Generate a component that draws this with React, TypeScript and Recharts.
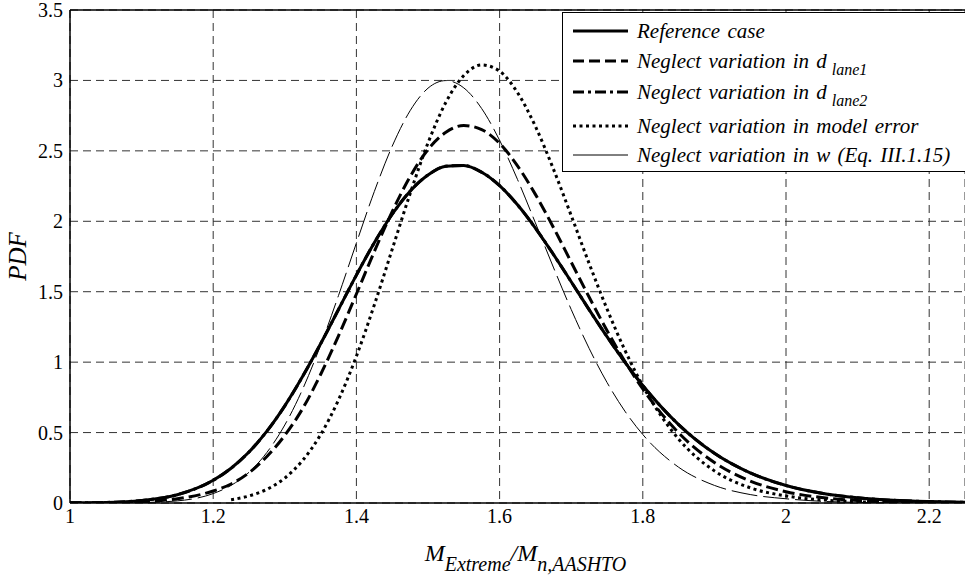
import React from "react";
import {
  LineChart,
  Line,
  XAxis,
  YAxis,
  CartesianGrid,
  ReferenceLine,
} from "recharts";

const xs = [
  1.0, 1.05, 1.1, 1.15, 1.2, 1.225, 1.25, 1.275, 1.3, 1.325, 1.35, 1.375, 1.4, 1.425, 1.45, 1.475, 1.5, 1.525,
  1.55, 1.575, 1.6, 1.625, 1.65, 1.675, 1.7, 1.725, 1.75, 1.775, 1.8, 1.85, 1.9, 1.95, 2.0, 2.05, 2.1, 2.15,
  2.2, 2.25,
];

const referenceCase = [
  0.001, 0.004, 0.018, 0.059, 0.161, 0.247, 0.362, 0.51, 0.69, 0.899, 1.13, 1.374, 1.618, 1.848, 2.05, 2.214,
  2.329, 2.391, 2.396, 2.348, 2.253, 2.117, 1.952, 1.766, 1.571, 1.373, 1.181, 1.0, 0.834, 0.557, 0.353, 0.214,
  0.124, 0.069, 0.037, 0.019, 0.01, 0.005,
];

const noLane1 = [
  0.0, 0.001, 0.008, 0.03, 0.085, 0.135, 0.215, 0.33, 0.48, 0.671, 0.912, 1.187, 1.484, 1.785, 2.069, 2.317,
  2.509, 2.632, 2.68, 2.651, 2.553, 2.394, 2.191, 1.958, 1.71, 1.462, 1.225, 1.005, 0.81, 0.498, 0.287, 0.156,
  0.08, 0.039, 0.018, 0.008, 0.003, 0.001,
];

const noLane2 = [
  0.001, 0.004, 0.018, 0.059, 0.161, 0.247, 0.362, 0.51, 0.69, 0.899, 1.13, 1.374, 1.618, 1.848, 2.05, 2.214,
  2.329, 2.391, 2.396, 2.348, 2.253, 2.117, 1.952, 1.766, 1.571, 1.373, 1.181, 1.0, 0.834, 0.557, 0.353, 0.214,
  0.124, 0.069, 0.037, 0.019, 0.01, 0.005,
];

const noModelError: (number | null)[] = [
  null, null, null, null, null, 0.023, 0.05, 0.097, 0.177, 0.303, 0.485, 0.732, 1.042, 1.406, 1.801, 2.196,
  2.556, 2.845, 3.035, 3.11, 3.066, 2.914, 2.674, 2.373, 2.041, 1.701, 1.378, 1.085, 0.832, 0.454, 0.228, 0.108,
  0.05, 0.022, 0.009, 0.004, 0.001, 0.0,
];

const noW = [
  0.0, 0.0, 0.003, 0.015, 0.067, 0.125, 0.218, 0.359, 0.554, 0.809, 1.12, 1.473, 1.846, 2.211, 2.533, 2.785,
  2.945, 2.999, 2.947, 2.8, 2.575, 2.297, 1.989, 1.675, 1.374, 1.098, 0.856, 0.652, 0.486, 0.254, 0.125, 0.06,
  0.03, 0.012, 0.004, 0.001, 0.0, 0.0,
];

const xTicks = [1, 1.2, 1.4, 1.6, 1.8, 2, 2.2];
const yTicks = [0, 0.5, 1, 1.5, 2, 2.5, 3, 3.5];

const data = xs.map((x, i) => ({
  x,
  ref: referenceCase[i],
  lane1: noLane1[i],
  lane2: noLane2[i],
  model: noModelError[i],
  w: noW[i],
}));

const FONT = "'Liberation Serif'";

const legendItems = [
  { label: "Reference case", sub: "", dash: undefined as string | undefined, width: 3 },
  { label: "Neglect variation in d", sub: "lane1", dash: "11 5", width: 3 },
  { label: "Neglect variation in d", sub: "lane2", dash: "11 4 3 4", width: 3 },
  { label: "Neglect variation in model error", sub: "", dash: "3 3.5", width: 3 },
  { label: "Neglect variation in w (Eq. III.1.15)", sub: "", dash: undefined, width: 1 },
];
const legendRowsY = [19, 49, 80, 114, 143];

const LegendBox = () => (
  <svg width={403} height={162} style={{ display: "block" }}>
    <rect x={0.5} y={0.5} width={420} height={159} fill="#fff" stroke="#000" strokeWidth={1} />
    {legendItems.map((it, i) => {
      const y = legendRowsY[i];
      return (
        <g key={i}>
          <line x1={11} x2={66} y1={y} y2={y} stroke="#000" strokeWidth={it.width} strokeDasharray={it.dash} />
          <text
            x={75}
            y={y + 7}
            fontFamily={FONT}
            fontStyle="italic"
            fontSize={21}
            fill="#000"
            style={{ wordSpacing: 2 }}
          >
            {it.label}
            {it.sub ? (
              <tspan fontSize={16} dx={5} dy={7}>
                {it.sub}
              </tspan>
            ) : null}
          </text>
        </g>
      );
    })}
  </svg>
);

const XLabel = (props: any) => {
  const vb = props.viewBox || {};
  const cx = vb.x + vb.width / 2 + 8;
  const y = vb.y + 58;
  return (
    <text x={cx} y={y} textAnchor="middle" fontFamily={FONT} fontStyle="italic" fill="#000">
      <tspan fontSize={24}>M</tspan>
      <tspan fontSize={20} dy={10}>Extreme</tspan>
      <tspan fontSize={24} dy={-10}>/M</tspan>
      <tspan fontSize={20} dy={10}>n,AASHTO</tspan>
    </text>
  );
};

const YLabel = (props: any) => {
  const vb = props.viewBox || {};
  const cy = vb.y + vb.height / 2;
  const x = 17;
  return (
    <text
      x={x}
      y={cy}
      transform={`rotate(-90, ${x}, ${cy})`}
      textAnchor="middle"
      dominantBaseline="central"
      fontFamily={FONT}
      fontStyle="italic"
      fontSize={25}
      fill="#000"
    >
      PDF
    </text>
  );
};

const XTick = (props: any) => {
  const { x, y, payload } = props;
  return (
    <text x={x} y={y + 20} textAnchor="middle" fontFamily={FONT} fontSize={20} fill="#000">
      {String(payload.value)}
    </text>
  );
};

const YTick = (props: any) => {
  const { x, y, payload } = props;
  return (
    <text x={x - 7} y={y + 7} textAnchor="end" fontFamily={FONT} fontSize={20} fill="#000">
      {String(payload.value)}
    </text>
  );
};

export default function App() {
  return (
    <div style={{ position: "absolute", left: 0, top: 0, width: 965, height: 579, background: "#fff", overflow: "hidden" }}>
      <LineChart width={965} height={579} data={data} margin={{ top: 10, right: 0, bottom: 0, left: 0 }}>
        <CartesianGrid stroke="#333" strokeDasharray="8 5" />
        <XAxis
          dataKey="x"
          type="number"
          domain={[1, 2.25]}
          ticks={xTicks}
          allowDataOverflow
          height={76}
          tickSize={0}
          tickMargin={0}
          tick={<XTick />}
          axisLine={{ stroke: "#000", strokeWidth: 1.5 }}
          tickLine={false}
          label={{ content: XLabel }}
        />
        <YAxis
          type="number"
          domain={[0, 3.5]}
          ticks={yTicks}
          allowDataOverflow
          width={70}
          tickSize={0}
          tickMargin={0}
          tick={<YTick />}
          axisLine={{ stroke: "#000", strokeWidth: 1.5 }}
          tickLine={false}
          label={{ content: YLabel }}
        />
        <ReferenceLine y={3.5} stroke="#000" strokeWidth={1.5} />
        <Line type="monotone" dataKey="lane2" stroke="#000" strokeWidth={3} strokeDasharray="11 4 3 4" dot={false} isAnimationActive={false} />
        <Line type="monotone" dataKey="ref" stroke="#000" strokeWidth={3} dot={false} isAnimationActive={false} />
        <Line type="monotone" dataKey="lane1" stroke="#000" strokeWidth={3} strokeDasharray="12 5" dot={false} isAnimationActive={false} />
        <Line type="monotone" dataKey="model" stroke="#000" strokeWidth={3} strokeDasharray="3 3.5" dot={false} isAnimationActive={false} />
        <Line type="monotone" dataKey="w" stroke="#000" strokeWidth={1} strokeDasharray="26 6" dot={false} isAnimationActive={false} />
      </LineChart>
      <div style={{ position: "absolute", top: 12, left: 562 }}>
        <LegendBox />
      </div>
    </div>
  );
}
